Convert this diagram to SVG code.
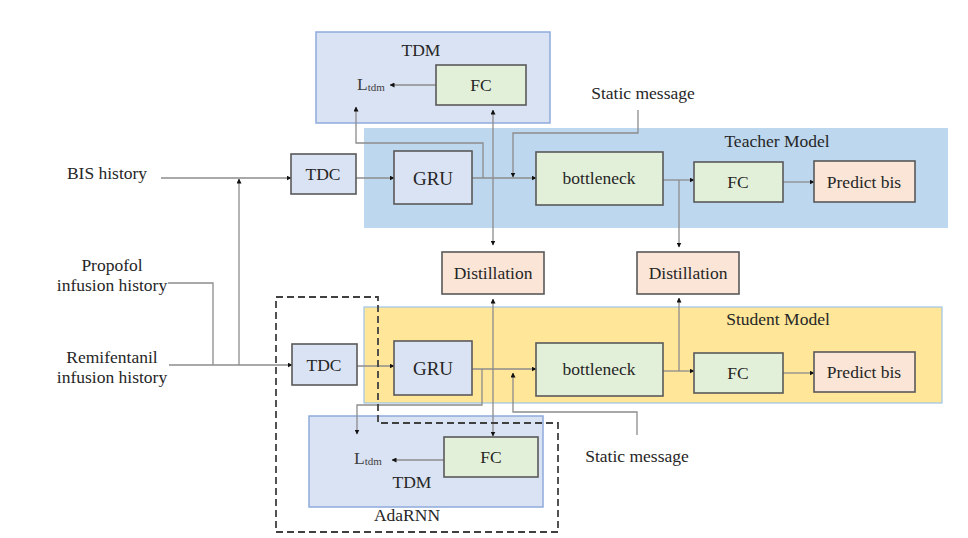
<svg xmlns="http://www.w3.org/2000/svg" width="968" height="538" viewBox="0 0 968 538" font-family="'Liberation Serif', 'Times New Roman', serif">
<defs>
<marker id="ah" viewBox="0 0 10 10" refX="9" refY="5" markerWidth="5" markerHeight="5" orient="auto-start-reverse" markerUnits="userSpaceOnUse">
<path d="M0,0 L10,5 L0,10 z" fill="#111"/>
</marker>
<style>
text{font-family:'Liberation Serif','Times New Roman',serif;fill:#262626;text-anchor:middle;dominant-baseline:central}
.lbl{font-size:17.5px}
.box{stroke:#595959;stroke-width:1.6}
.blue{fill:#dae3f3}
.green{fill:#e2f0d9}
.peach{fill:#fbe5d6}
.tdm{fill:#dae3f3;stroke:#8faadc;stroke-width:1.5}
.ln{fill:none;stroke:#8c8c8c;stroke-width:1.3}
.arr{marker-end:url(#ah)}
.dash{fill:none;stroke:#404040;stroke-width:1.8;stroke-dasharray:7,4}
</style>
</defs>
<rect width="968" height="538" fill="#fff"/>

<g id="panels">
<rect id="teacher-panel" x="364" y="128" width="584" height="100" fill="#bdd7ee"/>
<text x="777" y="141" class="lbl">Teacher Model</text>
<rect id="student-panel" x="364" y="307" width="578" height="96" fill="#ffe699" stroke="#9dc3e6" stroke-width="1.2"/>
<text x="778" y="319" class="lbl">Student Model</text>
</g>

<g id="tdm-top">
<rect x="316" y="32" width="234" height="91" class="tdm"/>
<text x="421" y="50" class="lbl">TDM</text>
</g>
<g id="tdm-bottom">
<rect x="309" y="416" width="234" height="91" class="tdm"/>
<text x="412" y="482" class="lbl">TDM</text>
</g>

<g id="inputs">
<text x="107" y="173" class="lbl">BIS history</text>
<text x="112" y="265" class="lbl">Propofol</text>
<text x="112" y="285" class="lbl">infusion history</text>
<text x="112" y="357" class="lbl">Remifentanil</text>
<text x="112" y="377" class="lbl">infusion history</text>
</g>

<g id="ltdm-top"><text x="371" y="84" style="font-size:17.5px;fill:#404040">L<tspan font-size="11" dy="3">tdm</tspan></text></g>
<g id="ltdm-bottom"><text x="368" y="458" style="font-size:17.5px;fill:#404040">L<tspan font-size="11" dy="3">tdm</tspan></text></g>

<g id="static-top"><text x="643" y="93" class="lbl">Static message</text></g>
<g id="static-bottom"><text x="637" y="456" class="lbl">Static message</text></g>

<g id="connectors">
<path d="M161,178 H291" class="ln arr"/>
<path d="M169,365 H292" class="ln arr"/>
<path d="M168,283 H213 V365" class="ln"/>
<path d="M239,365 V179" class="ln arr"/>
<path d="M356,178 H394" class="ln arr"/>
<path d="M472,178 H536" class="ln arr"/>
<path d="M483,178 V143 H356 V107" class="ln arr"/>
<path d="M493,245 V110" class="ln arr" style="marker-start:url(#ah)"/>
<path d="M638,110 V133 H513 V177" class="ln arr"/>
<path d="M663,180 H694" class="ln arr"/>
<path d="M679,180 V247" class="ln arr"/>
<path d="M783,182 H814" class="ln arr"/>
<path d="M436,85 H390" class="ln arr"/>
<path d="M357,366 H394" class="ln arr"/>
<path d="M472,369 H536" class="ln arr"/>
<path d="M482,369 V405 H357 V434" class="ln arr"/>
<path d="M493,299 V436" class="ln arr" style="marker-start:url(#ah)"/>
<path d="M637,435 V412 H513 V373" class="ln arr"/>
<path d="M663,371 H694" class="ln arr"/>
<path d="M679,371 V298" class="ln arr"/>
<path d="M783,373 H814" class="ln arr"/>
<path d="M444,460 H392" class="ln arr"/>
</g>

<g id="fc-tdm-top"><rect x="436" y="65" width="90" height="40" class="box green"/><text x="481" y="85" class="lbl">FC</text></g>
<g id="fc-tdm-bottom"><rect x="444" y="437" width="94" height="40" class="box green"/><text x="491" y="457" class="lbl">FC</text></g>

<g id="tdc-teacher"><rect x="291" y="154" width="65" height="40" class="box blue"/><text x="323" y="174" class="lbl">TDC</text></g>
<g id="gru-teacher"><rect x="394" y="151" width="78" height="53" class="box blue"/><text x="433" y="178" class="lbl" style="font-size:19px">GRU</text></g>
<g id="bottleneck-teacher"><rect x="536" y="152" width="127" height="53" class="box green"/><text x="599" y="178" class="lbl">bottleneck</text></g>
<g id="fc-teacher"><rect x="694" y="162" width="89" height="40" class="box green"/><text x="738" y="182" class="lbl">FC</text></g>
<g id="predict-teacher"><rect x="814" y="161" width="101" height="41" class="box peach"/><text x="864" y="182" class="lbl">Predict bis</text></g>

<g id="distill-1"><rect x="442" y="252" width="102" height="42" class="box peach"/><text x="493" y="273" class="lbl">Distillation</text></g>
<g id="distill-2"><rect x="637" y="252" width="102" height="42" class="box peach"/><text x="688" y="273" class="lbl">Distillation</text></g>

<g id="tdc-student"><rect x="292" y="344" width="65" height="41" class="box blue"/><text x="324" y="365" class="lbl">TDC</text></g>
<g id="gru-student"><rect x="394" y="341" width="78" height="54" class="box blue"/><text x="433" y="368" class="lbl" style="font-size:19px">GRU</text></g>
<g id="bottleneck-student"><rect x="536" y="343" width="127" height="53" class="box green"/><text x="599" y="369" class="lbl">bottleneck</text></g>
<g id="fc-student"><rect x="694" y="353" width="89" height="40" class="box green"/><text x="738" y="373" class="lbl">FC</text></g>
<g id="predict-student"><rect x="814" y="352" width="101" height="40" class="box peach"/><text x="864" y="372" class="lbl">Predict bis</text></g>

<g id="adarnn">
<path d="M276,297 H378 V423 H558 V532 H276 Z" class="dash"/>
<text x="407" y="515" class="lbl">AdaRNN</text>
</g>
</svg>
